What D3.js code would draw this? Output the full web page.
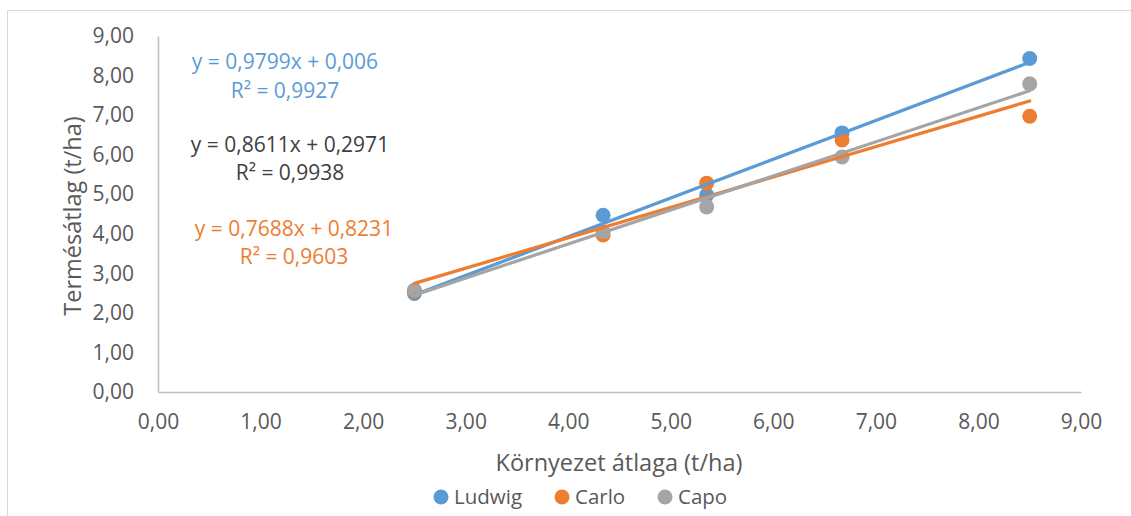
<!DOCTYPE html>
<html><head><meta charset="utf-8">
<script src="https://cdn.jsdelivr.net/npm/d3@7"></script>
<style>
html,body{margin:0;padding:0;background:#fff;}
svg{display:block;font-family:"Open Sans",sans-serif;}
</style></head>
<body><svg id="c" width="1131" height="516"></svg>
<script>
const seriesNames = ["Ludwig", "Carlo", "Capo"];
const seriesColors = ["#5B9BD5", "#ED7D31", "#A5A5A5"];
const envAvg = [2.50, 4.34, 5.35, 6.67, 8.50];
const ludwig = [2.49, 4.47, 4.98, 6.55, 8.43];
const carlo  = [2.55, 3.97, 5.28, 6.37, 6.97];
const capo   = [2.58, 4.05, 4.68, 5.94, 7.79];
const slopes = [0.9799, 0.7688, 0.8611];
const intercepts = [0.006, 0.8231, 0.2971];
const eqLabels = ["y = 0,9799x + 0,006", "y = 0,7688x + 0,8231", "y = 0,8611x + 0,2971"];
const r2Labels = ["R² = 0,9927", "R² = 0,9603", "R² = 0,9938"];
const eqColors = ["#5B9BD5", "#ED7D31", "#404040"];
const xTicks = [0,1,2,3,4,5,6,7,8,9];
const yTicks = [0,1,2,3,4,5,6,7,8,9];
const xTitle = "Környezet átlaga (t/ha)";
const yTitle = "Termésátlag (t/ha)";

const values = [ludwig, carlo, capo];
const svg = d3.select("#c");
const textColor = "#595959";

// chart border
svg.append("rect").attr("x",7.5).attr("y",10.5).attr("width",1140).attr("height",520)
  .attr("fill","#fff").attr("stroke","#D9D9D9").attr("stroke-width",1);

const x = d3.scaleLinear().domain([0,9]).range([158,1081]);
const y = d3.scaleLinear().domain([0,9]).range([392,36]);
const fmt = v => d3.format(".2f")(v).replace(".", ",");

// axes
const xAxis = svg.append("g").attr("transform","translate(0,392)")
  .call(d3.axisBottom(x).tickValues(xTicks).tickFormat(fmt).tickSize(0).tickPadding(22));
const yAxis = svg.append("g").attr("transform","translate(158,0)")
  .call(d3.axisLeft(y).tickValues(yTicks).tickFormat(fmt).tickSize(0).tickPadding(24));
[xAxis, yAxis].forEach(g => {
  g.select(".domain").attr("stroke","#BFBFBF").attr("stroke-width",1.5);
  g.selectAll("text").attr("fill",textColor).style("font-size","21px").style("font-family","'Open Sans',sans-serif");
});

// points
values.forEach((vals, i) => {
  svg.append("g").selectAll("circle").data(vals).join("circle")
    .attr("cx", (d,j) => x(envAvg[j])).attr("cy", d => y(d)).attr("r", 7.5)
    .attr("fill", seriesColors[i]);
});

// trendlines
const xMin = d3.min(envAvg), xMax = d3.max(envAvg);
values.forEach((vals, i) => {
  svg.append("line")
    .attr("x1", x(xMin)).attr("y1", y(slopes[i]*xMin + intercepts[i]))
    .attr("x2", x(xMax)).attr("y2", y(slopes[i]*xMax + intercepts[i]))
    .attr("stroke", seriesColors[i]).attr("stroke-width", 3.25).attr("stroke-linecap","round");
});

// equation labels
const eqPos = [{cx:285, y1:69, y2:98}, {cx:294, y1:236, y2:264}, {cx:290, y1:152, y2:180}];
eqLabels.forEach((t, i) => {
  svg.append("text").attr("x", eqPos[i].cx).attr("y", eqPos[i].y1).attr("text-anchor","middle")
    .attr("fill", eqColors[i]).style("font-size","21px").text(t);
  svg.append("text").attr("x", eqPos[i].cx).attr("y", eqPos[i].y2).attr("text-anchor","middle")
    .attr("fill", eqColors[i]).style("font-size","21px").text(r2Labels[i]);
});

// axis titles
svg.append("text").attr("x", 619).attr("y", 471).attr("text-anchor","middle")
  .attr("fill", textColor).style("font-size","23.5px").text(xTitle);
svg.append("text").attr("transform","translate(81,216) rotate(-90)").attr("text-anchor","middle")
  .attr("fill", textColor).style("font-size","23.5px").text(yTitle);

// legend
const legX = [441, 562, 665];
seriesNames.forEach((n, i) => {
  svg.append("circle").attr("cx", legX[i]).attr("cy", 497).attr("r", 7.5).attr("fill", seriesColors[i]);
  svg.append("text").attr("x", legX[i] + 13).attr("y", 504).attr("fill", textColor)
    .style("font-size","20.5px").text(n);
});
</script></body></html>
